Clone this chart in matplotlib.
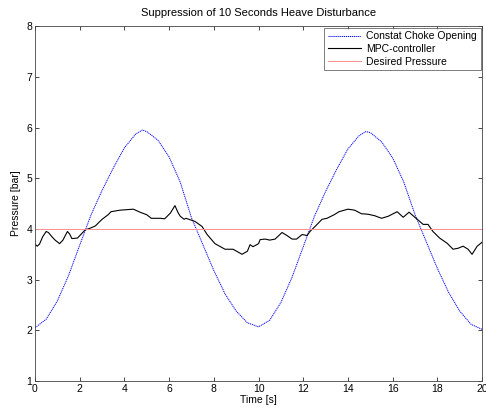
import matplotlib
matplotlib.use('Agg')
import matplotlib.pyplot as plt

plt.rcParams['font.family'] = ['Liberation Sans', 'DejaVu Sans']

# Constant choke opening (blue)
t_choke = [0, 0.5, 1.0, 1.5, 2.0, 2.5, 3.0, 3.5, 4.0, 4.5, 4.8, 5.0, 5.5, 6.0,
           6.5, 7.0, 7.5, 8.0, 8.5, 9.0, 9.5, 10.0, 10.5, 11.0, 11.5, 12.0,
           12.5, 13.0, 13.5, 14.0, 14.5, 14.8, 15.0, 15.5, 16.0, 16.5, 17.0,
           17.5, 18.0, 18.5, 19.0, 19.5, 20.0]
p_choke = [2.05, 2.22, 2.58, 3.08, 3.68, 4.27, 4.76, 5.2, 5.6, 5.87, 5.95, 5.92,
           5.75, 5.42, 4.92, 4.22, 3.7, 3.18, 2.72, 2.38, 2.15, 2.07, 2.2, 2.55,
           3.05, 3.65, 4.25, 4.74, 5.18, 5.58, 5.84, 5.92, 5.9, 5.72, 5.4, 4.92,
           4.28, 3.75, 3.22, 2.75, 2.38, 2.12, 2.02]

# MPC-controller (black)
t_mpc = [0.0, 0.1, 0.2, 0.35, 0.5, 0.6, 0.75, 0.9, 1.1, 1.25, 1.45, 1.55, 1.65,
         1.9, 2.05, 2.24, 2.5, 2.7, 3.0, 3.27, 3.4, 3.8, 4.1, 4.4, 4.7, 5.0,
         5.2, 5.6, 5.8, 6.05, 6.26, 6.4, 6.5, 6.67, 6.75, 7.15, 7.47, 7.7,
         8.05, 8.5, 8.86, 9.26, 9.5, 9.62, 9.75, 10.0, 10.07, 10.3, 10.5,
         10.74, 11.05, 11.27, 11.5, 11.7, 11.95, 12.17, 12.3, 12.53, 12.84,
         13.06, 13.38, 13.6, 14.0, 14.3, 14.6, 14.9, 15.2, 15.5, 15.8, 16.2,
         16.47, 16.73, 17.1, 17.36, 17.58, 17.8, 18.1, 18.43, 18.7, 18.93,
         19.15, 19.37, 19.55, 19.78, 19.95, 20.0]
p_mpc = [3.70, 3.66, 3.70, 3.85, 3.95, 3.93, 3.85, 3.78, 3.71, 3.78, 3.95, 3.90,
         3.81, 3.82, 3.89, 3.98, 4.02, 4.06, 4.19, 4.28, 4.34, 4.37, 4.38, 4.39,
         4.33, 4.28, 4.21, 4.21, 4.20, 4.31, 4.46, 4.32, 4.25, 4.19, 4.21, 4.15,
         4.05, 3.89, 3.71, 3.60, 3.60, 3.50, 3.56, 3.69, 3.65, 3.71, 3.79, 3.80,
         3.78, 3.80, 3.93, 3.87, 3.80, 3.80, 3.89, 3.87, 3.95, 4.05, 4.19, 4.21,
         4.28, 4.34, 4.39, 4.37, 4.30, 4.29, 4.26, 4.21, 4.25, 4.34, 4.23, 4.33,
         4.19, 4.09, 4.09, 3.95, 3.82, 3.72, 3.60, 3.62, 3.66, 3.60, 3.50, 3.66,
         3.72, 3.74]

# Desired pressure (red)
t_ref = [0, 20]
p_ref = [4.0, 4.0]

x_ticks = [0, 2, 4, 6, 8, 10, 12, 14, 16, 18, 20]
y_ticks = [1, 2, 3, 4, 5, 6, 7, 8]

fig = plt.figure(figsize=(4.86, 4.08), dpi=100)
ax = fig.add_axes([0.072, 0.066, 0.92, 0.87])

ax.plot(t_choke, p_choke, color='blue', linestyle=(0, (1.2, 0.8)), linewidth=0.7,
        label='Constat Choke Opening')
ax.plot(t_mpc, p_mpc, color='black', linewidth=0.8, label='MPC-controller')
ax.plot(t_ref, p_ref, color='#ff9090', linewidth=0.7, label='Desired Pressure')

ax.set_xlim(0, 20)
ax.set_ylim(1, 8)
ax.set_xticks(x_ticks)
ax.set_yticks(y_ticks)
ax.tick_params(direction='in', top=True, right=True, labelsize=7.5,
               length=3, width=0.5, pad=2)
for s in ax.spines.values():
    s.set_linewidth(0.6)
    s.set_color('#444444')

ax.set_title('Suppression of 10 Seconds Heave Disturbance', fontsize=8, pad=7)
ax.set_xlabel('Time [s]', fontsize=7.5, labelpad=1)
ax.set_ylabel('Pressure [bar]', fontsize=7.5, labelpad=4)

leg = ax.legend(loc='upper right', fontsize=7.5, fancybox=False,
                borderaxespad=0.15, handlelength=3.2, labelspacing=0.25,
                borderpad=0.35, handletextpad=0.5)
leg.get_frame().set_edgecolor('#444444')
leg.get_frame().set_linewidth(0.6)

fig.savefig('out.png', dpi=100)
